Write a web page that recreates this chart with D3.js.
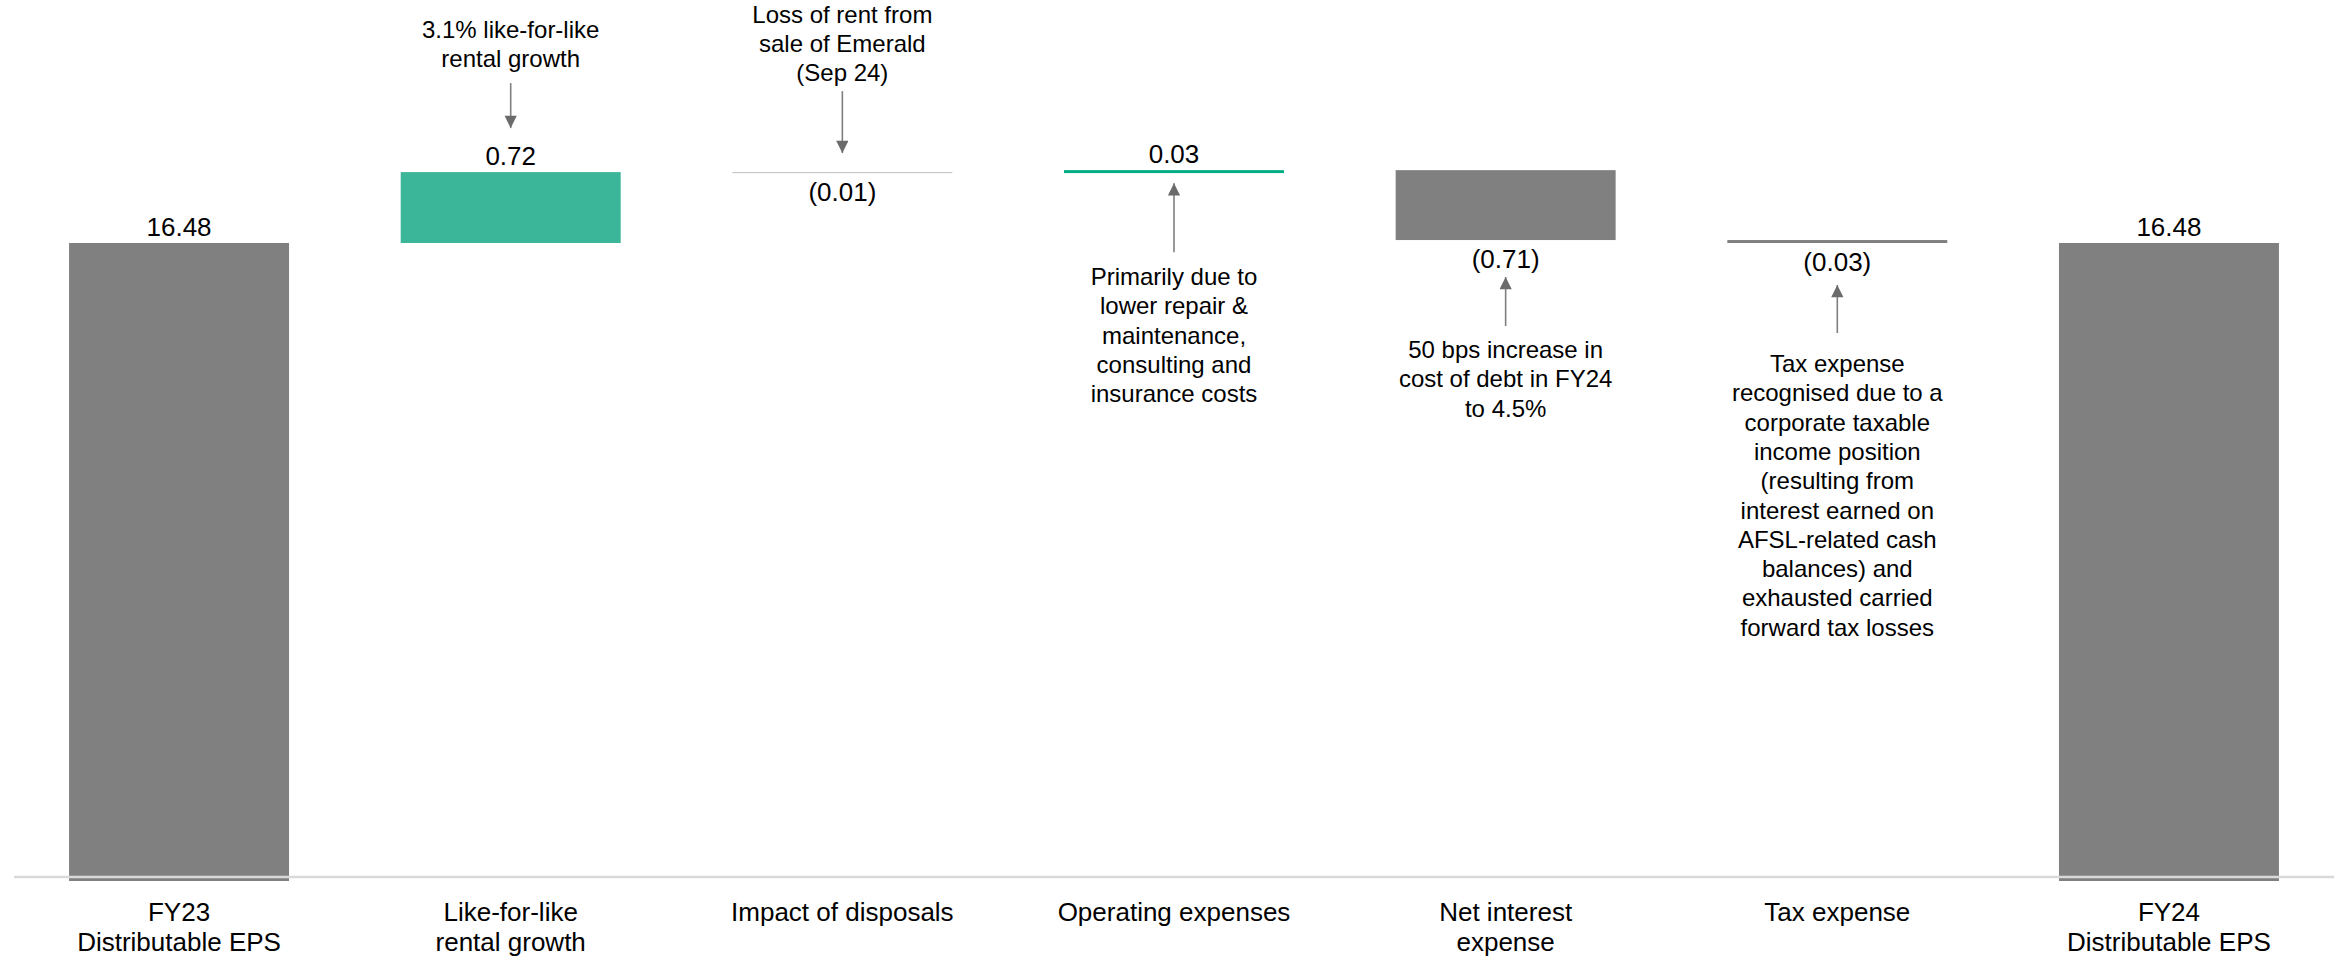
<!DOCTYPE html>
<html>
<head>
<meta charset="utf-8">
<script src="https://cdn.jsdelivr.net/npm/d3@7"></script>
<style>
  html, body { margin: 0; padding: 0; background: #ffffff; }
  svg { display: block; }
  text { font-family: "Liberation Sans", Arial, Helvetica, sans-serif; fill: #000; }
</style>
</head>
<body>
<script>
// ---------- data ----------
const categories = [
  "FY23 Distributable EPS",
  "Like-for-like rental growth",
  "Impact of disposals",
  "Operating expenses",
  "Net interest expense",
  "Tax expense",
  "FY24 Distributable EPS"
];
const categoryLines = [
  ["FY23", "Distributable EPS"],
  ["Like-for-like", "rental growth"],
  ["Impact of disposals"],
  ["Operating expenses"],
  ["Net interest", "expense"],
  ["Tax expense"],
  ["FY24", "Distributable EPS"]
];
const values = [16.48, 0.72, -0.01, 0.03, -0.71, -0.03, 16.48];
const kinds = ["total", "delta", "delta", "delta", "delta", "delta", "total"];
const valueLabels = ["16.48", "0.72", "(0.01)", "0.03", "(0.71)", "(0.03)", "16.48"];
const axisStart = 10; // truncated value axis starts at 10

// annotation text per category (index)
const annotationIndex = [1, 2, 3, 4, 5];
const annotationText = [
  ["3.1% like-for-like", "rental growth"],
  ["Loss of rent from", "sale of Emerald", "(Sep 24)"],
  ["Primarily due to", "lower repair &", "maintenance,", "consulting and", "insurance costs"],
  ["50 bps increase in", "cost of debt in FY24", "to 4.5%"],
  ["Tax expense", "recognised due to a", "corporate taxable", "income position", "(resulting from", "interest earned on", "AFSL-related cash", "balances) and", "exhausted carried", "forward tax losses"]
];
const annotationPlacement = ["above", "above", "below", "below", "below"];

// ---------- layout ----------
const W = 2346, H = 960;
const svg = d3.select("body").append("svg").attr("width", W).attr("height", H);

// waterfall geometry
let running = 0;
const bars = values.map((v, i) => {
  let lo, hi;
  if (kinds[i] === "total") { lo = axisStart; hi = v; running = v; }
  else { const start = running; running = +(running + v).toFixed(4); lo = Math.min(start, running); hi = Math.max(start, running); }
  return { i, cat: categories[i], v, lo, hi, kind: kinds[i], label: valueLabels[i] };
});

const x = d3.scaleBand().domain(categories).range([13.2, 2334.8]).paddingInner(0.3367).paddingOuter(0.1684);
const y = d3.scaleLinear().domain([axisStart, 16.48]).range([881, 243]);

const GRAY = "#808080", GREEN = "#3cb699", GREEN_LINE = "#00ac84", LIGHT = "#bfbfbf";
function colour(d) {
  const h = y(d.lo) - y(d.hi);
  if (d.kind === "total") return GRAY;
  if (d.v > 0) return h < 5 ? GREEN_LINE : GREEN;
  return h < 2 ? LIGHT : GRAY;
}

// bars
svg.append("g").selectAll("rect").data(bars).join("rect")
  .attr("x", d => x(d.cat))
  .attr("width", x.bandwidth())
  .attr("y", d => y(d.hi))
  .attr("height", d => Math.max(1, y(d.lo) - y(d.hi)))
  .attr("fill", colour);

// baseline
svg.append("line")
  .attr("x1", 14).attr("x2", 2334)
  .attr("y1", y(axisStart) - 4).attr("y2", y(axisStart) - 4)
  .attr("stroke", "#d9d9d9").attr("stroke-width", 2.5);

// value labels
svg.append("g").selectAll("text").data(bars).join("text")
  .attr("x", d => x(d.cat) + x.bandwidth() / 2)
  .attr("y", d => (d.kind === "total" || d.v > 0) ? y(d.hi) - 7 : y(d.lo) + 28)
  .attr("text-anchor", "middle")
  .attr("font-size", 26)
  .text(d => d.label);

// category labels
const cat = svg.append("g").selectAll("text").data(categories).join("text")
  .attr("text-anchor", "middle")
  .attr("font-size", 26)
  .attr("x", d => x(d) + x.bandwidth() / 2)
  .attr("y", 921);
cat.each(function (d, i) {
  d3.select(this).selectAll("tspan").data(categoryLines[i]).join("tspan")
    .attr("x", x(d) + x.bandwidth() / 2)
    .attr("dy", (t, k) => k === 0 ? 0 : 30)
    .text(t => t);
});

// annotations with arrows
const defs = svg.append("defs");
defs.append("marker").attr("id", "ah")
  .attr("viewBox", "0 0 14 16").attr("refX", 14).attr("refY", 7)
  .attr("markerWidth", 16).attr("markerHeight", 14)
  .attr("markerUnits", "userSpaceOnUse").attr("orient", "auto")
  .append("path").attr("d", "M0,0 L14,7 L0,14 Z").attr("fill", "#6b6b6b");

// layout offsets for each annotation: gap from mark to arrow tip, arrow length, gap arrow->text
const annoLayout = [
  { tipGap: 44, len: 45, textGap: 16 },
  { tipGap: 19, len: 62, textGap: 10 },
  { tipGap: 13, len: 69, textGap: 33 },
  { tipGap: 37, len: 49, textGap: 32 },
  { tipGap: 42, len: 48, textGap: 39 }
];

const LH = 29.3;
annotationIndex.forEach((ci, a) => {
  const d = bars[ci];
  const L = annoLayout[a];
  const cx = x(d.cat) + x.bandwidth() / 2;
  const lines = annotationText[a];
  let textBase, y1, y2;
  if (annotationPlacement[a] === "above") {
    y2 = y(d.hi) - L.tipGap;
    y1 = y2 - L.len;
    textBase = y1 - L.textGap - (lines.length - 1) * LH;
  } else {
    y2 = (d.v > 0 ? y(d.hi) : y(d.lo)) + L.tipGap;
    y1 = y2 + L.len;
    textBase = y1 + L.textGap;
  }
  svg.append("line")
    .attr("x1", cx).attr("x2", cx).attr("y1", y1).attr("y2", y2)
    .attr("stroke", "#7f7f7f").attr("stroke-width", 1.6)
    .attr("marker-end", "url(#ah)");
  const t = svg.append("text").attr("text-anchor", "middle").attr("font-size", 24)
    .attr("x", cx).attr("y", textBase);
  t.selectAll("tspan").data(lines).join("tspan")
    .attr("x", cx).attr("dy", (s, k) => k === 0 ? 0 : LH).text(s => s);
});
</script>
</body>
</html>
